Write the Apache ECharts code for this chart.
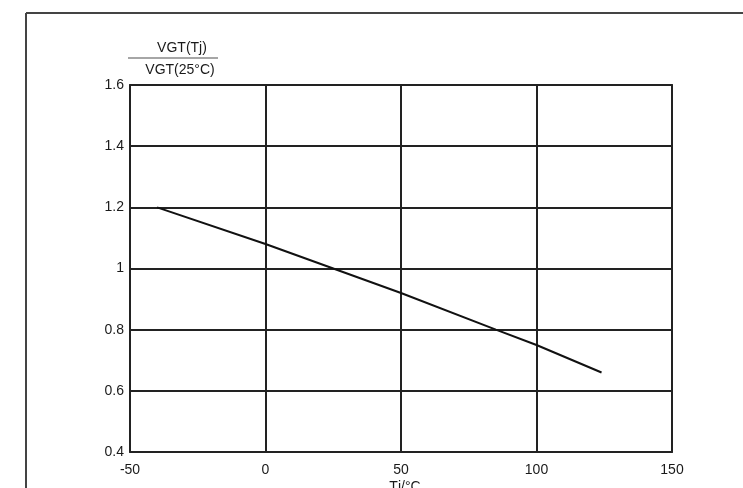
<!DOCTYPE html>
<html><head><meta charset="utf-8">
<script src="https://cdn.jsdelivr.net/npm/echarts@6/dist/echarts.min.js"></script>
<style>html,body{margin:0;padding:0;background:#fff;}#c{width:743px;height:488px;}</style>
</head><body><div id="c"></div>
<script>
const tempC = [-40, 0, 25, 50, 85, 100, 124];
const ratio = [1.2, 1.08, 1.0, 0.92, 0.8, 0.75, 0.66];
const yNameTop = 'VGT(Tj)';
const yNameBottom = 'VGT(25°C)';
const xName = 'Tj/°C';

const chart = echarts.init(document.getElementById('c'));
const font = 'Liberation Sans, Arial, sans-serif';
chart.setOption({
  animation: false,
  backgroundColor: '#fff',
  grid: { left: 130, right: 71, top: 85, bottom: 36, show: true, borderColor: '#333', borderWidth: 2 },
  xAxis: {
    type: 'value', min: -50, max: 150, interval: 50,
    axisLine: { show: false }, axisTick: { show: false },
    axisLabel: { color: '#1a1a1a', fontFamily: font, fontSize: 14, margin: 11, showMinLabel: true, showMaxLabel: true },
    splitLine: { show: true, lineStyle: { color: '#222', width: 2 } }
  },
  yAxis: {
    type: 'value', min: 0.4, max: 1.6, interval: 0.2,
    axisLine: { show: false }, axisTick: { show: false },
    axisLabel: { color: '#1a1a1a', fontFamily: font, fontSize: 14, margin: 6 },
    splitLine: { show: true, lineStyle: { color: '#222', width: 2 } }
  },
  series: [{
    type: 'line', data: tempC.map((t, i) => [t, ratio[i]]),
    showSymbol: false, lineStyle: { color: '#111', width: 2 }
  }],
  graphic: [
    { type: 'line', shape: { x1: 26, y1: 13, x2: 743, y2: 13 }, style: { stroke: '#444', lineWidth: 2 } },
    { type: 'line', shape: { x1: 26, y1: 13, x2: 26, y2: 488 }, style: { stroke: '#444', lineWidth: 2 } },
    { type: 'text', x: 182, y: 48, style: { text: yNameTop, fill: '#1a1a1a', font: '14px ' + font, textAlign: 'center', textVerticalAlign: 'middle' } },
    { type: 'line', shape: { x1: 128, y1: 58, x2: 218, y2: 58 }, style: { stroke: '#888', lineWidth: 1.5 } },
    { type: 'text', x: 180, y: 70, style: { text: yNameBottom, fill: '#1a1a1a', font: '14px ' + font, textAlign: 'center', textVerticalAlign: 'middle' } },
    { type: 'text', x: 405, y: 487, style: { text: xName, fill: '#1a1a1a', font: '14px ' + font, textAlign: 'center', textVerticalAlign: 'middle' } }
  ]
});
</script></body></html>
